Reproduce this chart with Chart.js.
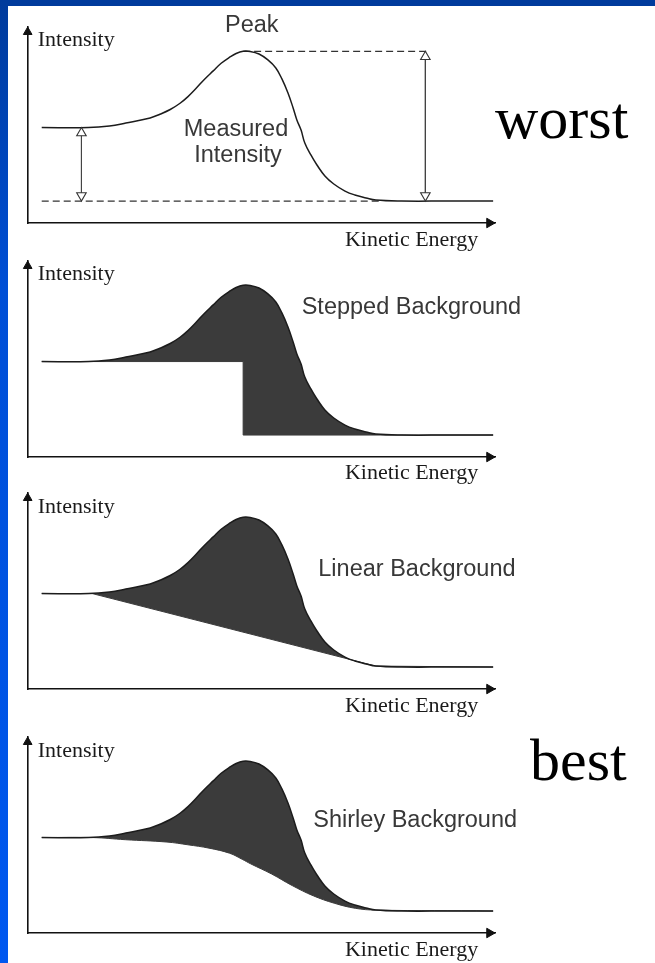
<!DOCTYPE html>
<html><head><meta charset="utf-8">
<script src="https://cdn.jsdelivr.net/npm/chart.js@4.4.1/dist/chart.umd.min.js"></script>
<style>
html,body{margin:0;padding:0;background:#fff;width:655px;height:963px;overflow:hidden;position:relative}
.frameTop{position:absolute;left:0;top:0;width:655px;height:6px;background:#003b9c}
.frameLeft{position:absolute;left:0;top:0;width:8px;height:963px;background:linear-gradient(#003b9c,#004fd6 30%,#0058f0)}
canvas{position:absolute;left:0}
.t{position:absolute;white-space:nowrap;line-height:1}
.serif{font-family:"Liberation Serif","Times New Roman",serif;color:#1a1a1a}
.sans{font-family:"Liberation Sans",Arial,sans-serif;color:#383838}
</style></head><body>
<div class="frameTop"></div><div class="frameLeft"></div>
<script>
// ---- data (x: kinetic energy, y: intensity, both in 0..100 axis units) ----
const energy   = [3, 13, 17.5, 21, 26.2, 28.3, 30.5, 32.6, 34.3, 36, 37.9, 39.7, 41.4, 43.3, 44.6, 46.1, 47.6, 49.5, 51.4, 53.1, 54.4, 55.7, 56.8, 57.6, 58.5, 59.3, 60.6, 61.9, 63.6, 65.5, 67.9, 70, 72.4, 74.5, 80, 90, 99.6];
const measured = [48.7, 48.7, 49.5, 51, 53.6, 55.5, 57.9, 61.1, 64.5, 68.6, 73.5, 77.6, 81.5, 84.7, 86.5, 87.6, 87.5, 86.2, 83.2, 79.1, 73.5, 66.3, 58.7, 52.6, 47.4, 40.8, 34.7, 29.6, 24, 19.9, 16.3, 14.3, 12.8, 11.7, 11.2, 11.2, 11.2];

const steppedX = [3, 46.1, 99.6];
const steppedY = [48.7, 11.2, 11.2];
const linearX  = [3, 13.8, 74.5, 99.6];
const linearY  = [48.7, 48.7, 11.7, 11.2];
const shirleyX = [3, 13.8, 20.9, 29.8, 34.3, 38.8, 43.2, 45.9, 47.7, 52.2, 56.6, 61.1, 65.6, 70.1, 74.5, 99.6];
const shirleyY = [48.7, 48.7, 47.6, 46.4, 45.0, 43.3, 40.7, 37.6, 35.3, 30.1, 24.2, 19.0, 15.2, 12.6, 11.7, 11.2];

// guides on the first panel
const peakLevel = 87.6, baseLevel = 11.2, startLevel = 48.7;
const peakGuideX = [46.1, 85.7];
const baseGuideX = [3, 75.4];
const arrowX = [11.5, 85.1];
const arrowTop = [startLevel, peakLevel];

const panelTitles = ['', 'Stepped Background', 'Linear Background', 'Shirley Background'];
const axisXTitle = 'Kinetic Energy';
const axisYTitle = 'Intensity';

// ---- layout ----
const plotH = 196, plotL = 27.7, plotR = 495, pad = 12;
const panelTop = [27, 260.5, 493.3, 737.3];

function pts(xs, ys) { return xs.map((x, i) => ({x, y: ys[i]})); }
function flat(xs, y) { return xs.map(x => ({x, y})); }

function addText(txt, cls, size, x, baseline, align, color) {
  const d = document.createElement('div');
  d.className = 't ' + cls;
  d.textContent = txt;
  d.style.fontSize = size + 'px';
  const k = cls === 'sans' ? 0.8465 : 0.8375;
  d.style.top = (baseline - k * size) + 'px';
  d.style.left = x + 'px';
  if (align === 'right') d.style.transform = 'translateX(-100%)';
  if (align === 'center') d.style.transform = 'translateX(-50%)';
  if (color) d.style.color = color;
  document.body.appendChild(d);
}

const unitY = 100 / plotH, unitX = 100 / (plotR - plotL);

function axisArrows() {
  return {
    type: 'line', showLine: false, clip: false, order: 0,
    data: [{x: 0, y: 100 - 5 * unitY}, {x: 100 - 5.5 * unitX, y: 0}],
    pointStyle: 'triangle', pointRadius: [5, 5.5], pointRotation: [0, 90],
    pointBackgroundColor: '#111', pointBorderColor: '#111', pointBorderWidth: 1
  };
}

function makeChart(i) {
  const top = panelTop[i];
  const c = document.createElement('canvas');
  c.width = 655; c.height = plotH + 2 * pad;
  c.style.top = (top - pad) + 'px';
  document.body.appendChild(c);

  const datasets = [];
  const meas = {
    type: 'line', data: pts(energy, measured), order: 2, clip: false,
    borderColor: '#1c1c1c', borderWidth: 1.5, pointRadius: 0,
    tension: 0.4, fill: false
  };
  datasets.push(meas);
  if (i === 0) {
    const r = 5.5;
    datasets.push({type: 'line', data: flat(peakGuideX, peakLevel), order: 3, borderColor: '#333', borderWidth: 1.3, borderDash: [7, 4], pointRadius: 0});
    datasets.push({type: 'line', data: flat(baseGuideX, baseLevel), order: 3, borderColor: '#333', borderWidth: 1.3, borderDash: [7, 4], pointRadius: 0});
    arrowX.forEach((ax, j) => {
      datasets.push({
        type: 'line', order: 1, clip: false,
        data: [{x: ax, y: arrowTop[j] - r * unitY}, {x: ax, y: baseLevel + r * unitY}],
        borderColor: '#444', borderWidth: 1,
        pointStyle: 'triangle', pointRadius: r, pointRotation: [0, 180],
        pointBackgroundColor: '#fff', pointBorderColor: '#333', pointBorderWidth: 1.1
      });
    });
  } else {
    const bx = [null, steppedX, linearX, shirleyX][i];
    const by = [null, steppedY, linearY, shirleyY][i];
    meas.fill = 1;
    meas.backgroundColor = '#3b3b3b';
    datasets.push({
      type: 'line', data: pts(bx, by), order: 4, clip: false,
      borderColor: '#3b3b3b', borderWidth: 1, pointRadius: 0,
      stepped: i === 1 ? 'before' : false,
      tension: i === 3 ? 0.4 : 0, fill: false
    });
  }
  datasets.push(axisArrows());

  const axis = {
    type: 'linear', min: 0, max: 100,
    grid: {display: false, drawTicks: false},
    ticks: {display: false},
    border: {display: true, color: '#111', width: 1.6}
  };
  new Chart(c, {
    data: {datasets},
    options: {
      responsive: false, animation: false, events: [],
      layout: {padding: {left: plotL, right: 655 - plotR, top: pad, bottom: pad}},
      plugins: {legend: {display: false}, tooltip: {enabled: false}},
      scales: {x: axis, y: Object.assign({}, axis)}
    }
  });

  addText(axisYTitle, 'serif', 22, 37.7, top + 19.8, 'left');
  addText(axisXTitle, 'serif', 22, 478.3, top + plotH + 23.4, 'right');
}

for (let i = 0; i < 4; i++) makeChart(i);

addText('Peak', 'sans', 23.5, 225, 33.3, 'left');
addText('Measured', 'sans', 23.5, 236, 136.7, 'center');
addText('Intensity', 'sans', 23.5, 238, 163.3, 'center');
addText('worst', 'serif', 60, 495, 138.3, 'left', '#000');
addText(panelTitles[1], 'sans', 23.5, 301.7, 315, 'left');
addText(panelTitles[2], 'sans', 23.5, 318.3, 576.7, 'left');
addText(panelTitles[3], 'sans', 23.5, 313.3, 828.3, 'left');
addText('best', 'serif', 60, 530, 780, 'left', '#000');
</script>
</body></html>
